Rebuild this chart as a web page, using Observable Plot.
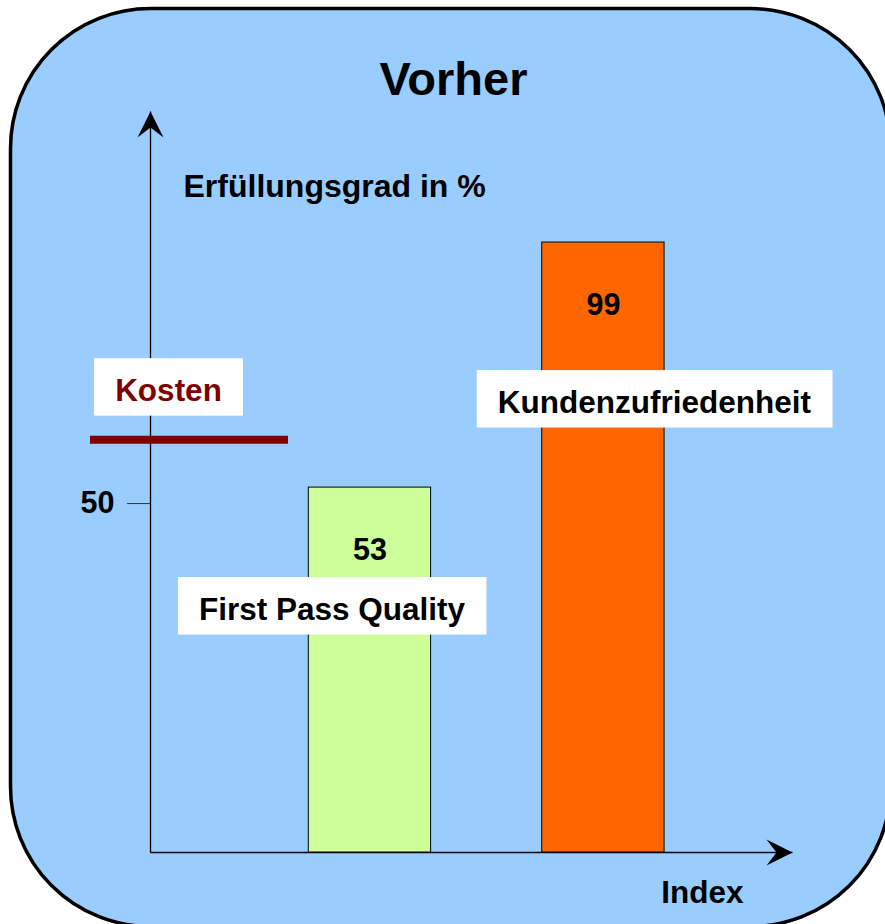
<!DOCTYPE html>
<html>
<head>
<meta charset="utf-8">
<script src="https://cdn.jsdelivr.net/npm/d3@7"></script>
<script src="https://cdn.jsdelivr.net/npm/@observablehq/plot@0.6"></script>
<style>
  html, body { margin: 0; padding: 0; background: #ffffff; }
  #chart { width: 885px; height: 924px; overflow: hidden; }
</style>
</head>
<body>
<div id="chart"></div>
<script>
// ---- data ----
const title = "Vorher";
const yLabel = "Erfüllungsgrad in %";
const xLabel = "Index";
const categories = ["First Pass Quality", "Kundenzufriedenheit"];
const values = [53, 99];
const kostenLabel = "Kosten";
const kostenValue = [62];
const yTicks = [50];

// ---- scale settings ----
const yFloor = -15.5, yTop = 123.6;   // value at the x axis / at the arrow tip
const xStart = 0.06, xEnd = 2.81;      // index units at the y axis / at the arrow tip
const halfBar = 0.262;
const font = "'Liberation Sans', Arial, Helvetica, sans-serif";

const bars = categories.map((c, i) => ({category: c, value: values[i], index: i + 1}));

// filled stealth arrowhead, tip at origin, pointing up
const arrowHead = {
  draw(ctx) {
    ctx.moveTo(0, 0);
    ctx.lineTo(13, 26);
    ctx.lineTo(0, 16);
    ctx.lineTo(-13, 26);
    ctx.closePath();
  }
};

const labelStyle = {fontSize: 31.5, fontWeight: "bold", fontFamily: font, lineAnchor: "bottom", textAnchor: "middle"};

const plot = Plot.plot({
  width: 885,
  height: 924,
  marginLeft: 150,
  marginRight: 93,
  marginTop: 111,
  marginBottom: 72,
  style: {background: "transparent", fontFamily: font},
  x: {type: "linear", domain: [xStart, xEnd], axis: null},
  y: {domain: [yFloor, yTop], axis: null},
  color: {domain: categories, range: ["#ccff99", "#ff6600"]},
  marks: [
    // rounded background panel
    Plot.frame({fill: "#99ccff", stroke: "#000", strokeWidth: 3.5, rx: 140,
      insetLeft: -140, insetTop: -103, insetRight: -98, insetBottom: -74}),
    // axis lines
    Plot.link([0], {x1: () => xStart, x2: () => xStart, y1: () => yFloor, y2: () => yTop,
      stroke: "#000", strokeWidth: 1.3}),
    Plot.link([0], {x1: () => xStart, x2: () => xEnd, y1: () => yFloor, y2: () => yFloor,
      stroke: "#000", strokeWidth: 1.3}),
    Plot.dot([0], {x: () => xStart, y: () => yTop, symbol: arrowHead, fill: "#000", stroke: null, rotate: 0}),
    Plot.dot([0], {x: () => xEnd, y: () => yFloor, symbol: arrowHead, fill: "#000", stroke: null, rotate: 90}),
    Plot.axisY(yTicks, {tickSize: 23, tickPadding: 13, label: null, fontSize: 30.5, fontWeight: "bold",
      fontFamily: font, stroke: "#333", color: "#000"}),
    // bars
    Plot.rectY(bars, {x1: d => d.index - halfBar, x2: d => d.index + halfBar,
      y1: () => yFloor, y2: "value", fill: "category", stroke: "#000", strokeWidth: 1}),
    // Kosten line
    Plot.ruleY(kostenValue, {stroke: "#800000", strokeWidth: 8, insetLeft: -60, insetRight: 504}),
    // value labels
    Plot.text(bars, {x: "index", y: "value", text: d => String(d.value), dy: 72,
      fontSize: 30.5, fontWeight: "bold", fontFamily: font, lineAnchor: "bottom", fill: "#000"}),
    // category labels
    Plot.text(bars.filter((d, i) => i === 0), {x: "index", y: "value", text: "category",
      dx: -38, dy: 132, fill: "#000", ...labelStyle}),
    Plot.text(bars.filter((d, i) => i === 1), {x: "index", y: "value", text: "category",
      dx: 51, dy: 170, fill: "#000", ...labelStyle}),
    // Kosten label
    Plot.text(kostenValue, {y: d => d, text: () => kostenLabel, frameAnchor: "left",
      dx: 18, dy: -39, fill: "#800000", ...labelStyle}),
    // titles
    Plot.text([title], {frameAnchor: "top", textAnchor: "middle", dx: -18, dy: -17, lineAnchor: "bottom",
      fontSize: 47, fontWeight: "bold", fontFamily: font, fill: "#000"}),
    Plot.text([yLabel], {frameAnchor: "top-left", textAnchor: "start", dx: 33, dy: 85,
      lineAnchor: "bottom", fontSize: 32, fontWeight: "bold", fontFamily: font, fill: "#000"}),
    Plot.text([xLabel], {frameAnchor: "bottom-right", textAnchor: "end", dx: -49, dy: 50,
      lineAnchor: "bottom", fontSize: 31.5, fontWeight: "bold", fontFamily: font, fill: "#000"})
  ]
});

document.getElementById("chart").appendChild(plot);

// white boxes behind the category and Kosten labels
const boxed = new Set([...categories, kostenLabel]);
const ns = "http://www.w3.org/2000/svg";
plot.querySelectorAll("text").forEach(t => {
  if (!boxed.has(t.textContent)) return;
  const b = t.getBBox();
  const r = document.createElementNS(ns, "rect");
  r.setAttribute("x", b.x - 21);
  r.setAttribute("y", b.y - 13.5);
  r.setAttribute("width", b.width + 42);
  r.setAttribute("height", 57.5);
  r.setAttribute("fill", "#ffffff");
  r.setAttribute("stroke", "none");
  const tr = t.getAttribute("transform");
  if (tr) r.setAttribute("transform", tr);
  t.parentNode.insertBefore(r, t);
});
</script>
</body>
</html>
